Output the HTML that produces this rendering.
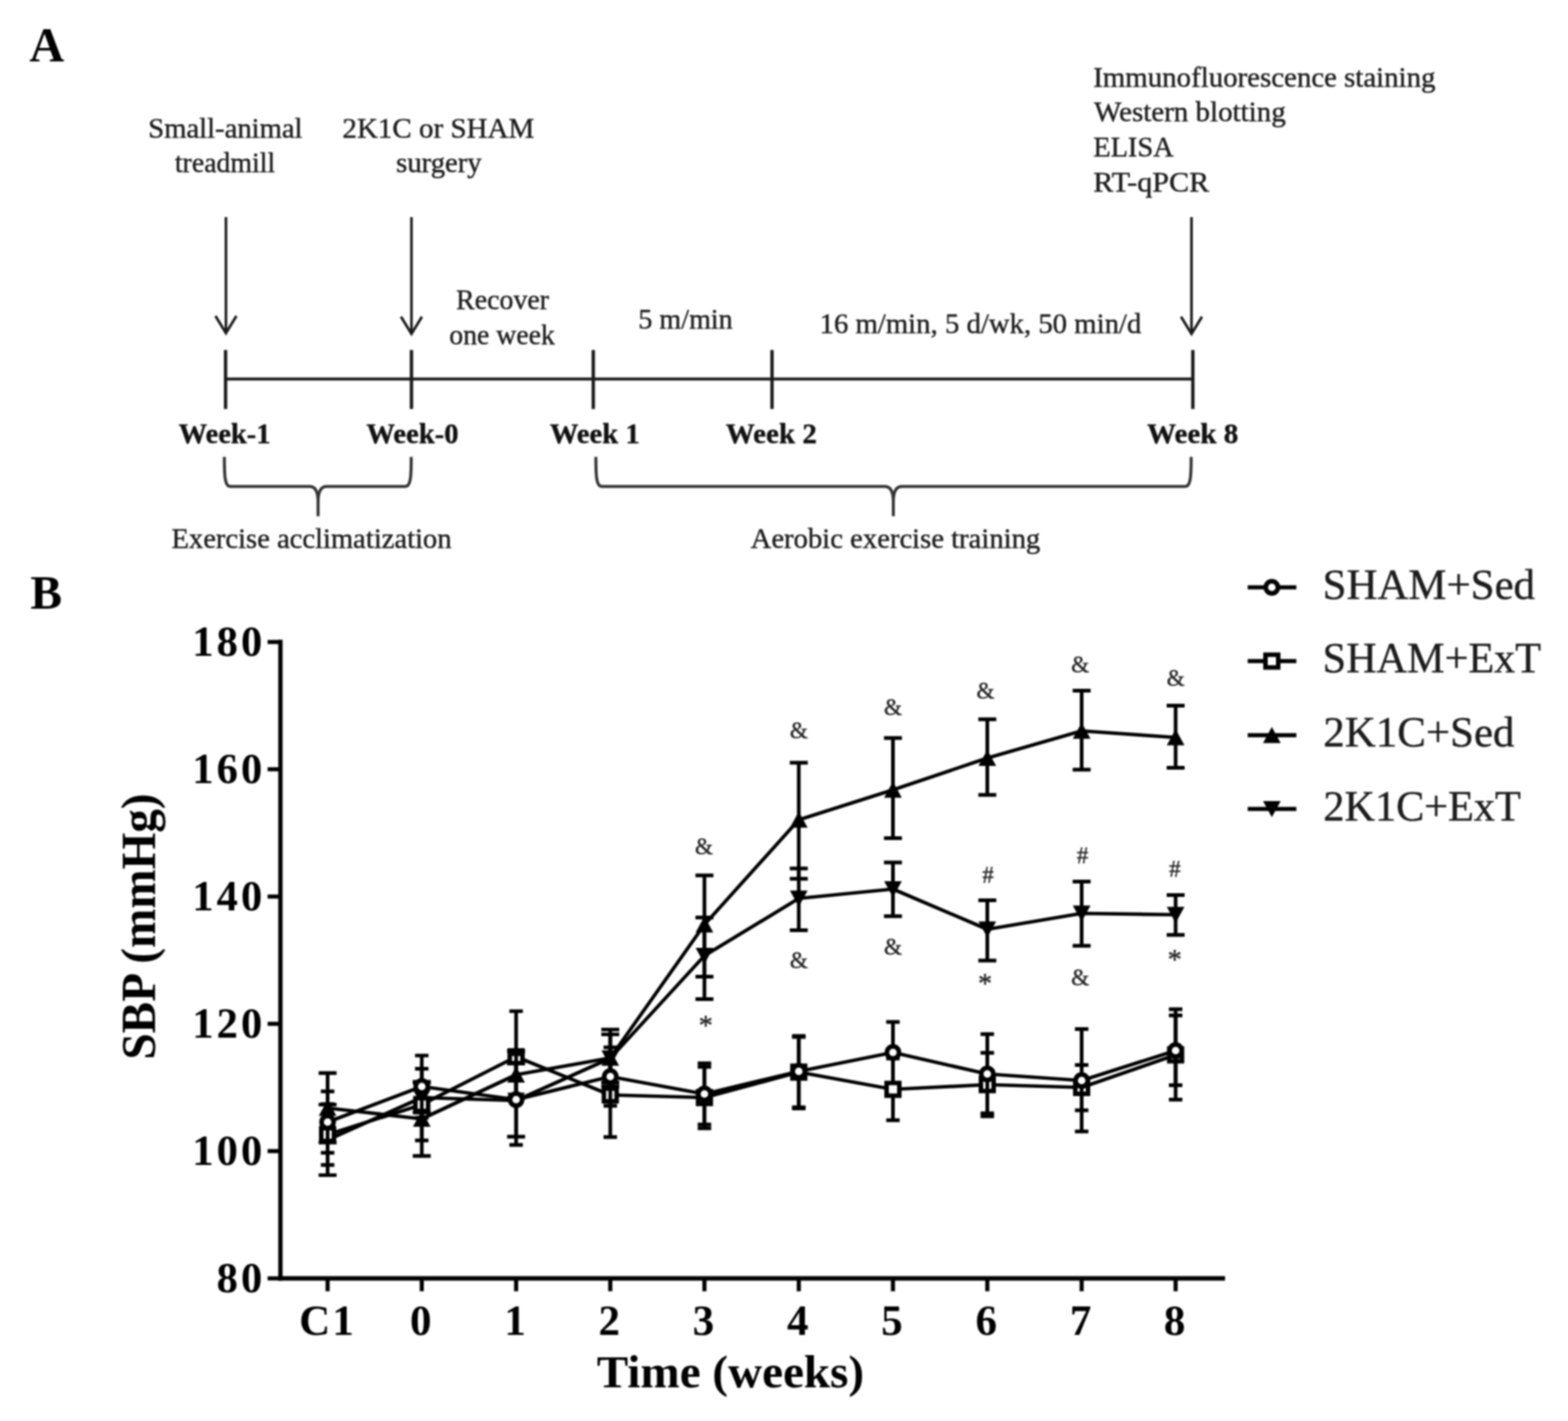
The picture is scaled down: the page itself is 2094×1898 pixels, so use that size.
<!DOCTYPE html>
<html lang="en">
<head>
<meta charset="utf-8">
<title>Figure: experimental timeline and SBP time course</title>
<style>
html, body { margin: 0; padding: 0; background: #fff; }
body { width: 2094px; height: 1898px; overflow: hidden; }
svg { display: block; font-family: "Liberation Serif", "DejaVu Serif", serif; }
text { white-space: pre; }
/* the reference is a soft, upscaled raster: mimic its edge softness */
.soft { filter: blur(0.85px); }
</style>
</head>
<body>
<svg width="2094" height="1898" viewBox="0 0 2094 1898" role="img" aria-label="Experimental timeline (A) and systolic blood pressure time course (B)">
<rect width="2094" height="1898" fill="#fff"/>
<g class="soft">
<g id="panelA">
<text x="39.3" y="82.2" font-size="64.5" font-weight="bold">A</text>
<g fill="#1c1c1c" stroke="#1c1c1c" stroke-width="0.55" stroke-linejoin="round">
<text x="198.0" y="184" font-size="38.5" textLength="206.0" lengthAdjust="spacingAndGlyphs">Small-animal</text>
<text x="233.5" y="229.5" font-size="38.5" textLength="134.0" lengthAdjust="spacingAndGlyphs">treadmill</text>
<text x="457.25" y="184" font-size="38.5" textLength="256.3" lengthAdjust="spacingAndGlyphs">2K1C or SHAM</text>
<text x="529.0" y="230" font-size="38.5" textLength="114.3" lengthAdjust="spacingAndGlyphs">surgery</text>
<text x="609.0" y="412.5" font-size="38.5" textLength="124.3" lengthAdjust="spacingAndGlyphs">Recover</text>
<text x="600.0" y="460" font-size="38.5" textLength="141.0" lengthAdjust="spacingAndGlyphs">one week</text>
<text x="852.5" y="438.75" font-size="38.5" textLength="126.0" lengthAdjust="spacingAndGlyphs">5 m/min</text>
<text x="1094.5" y="444.5" font-size="38.5" textLength="429.7" lengthAdjust="spacingAndGlyphs">16 m/min, 5 d/wk, 50 min/d</text>
<text x="1460.0" y="115.5" font-size="38.5" textLength="457.1" lengthAdjust="spacingAndGlyphs">Immunofluorescence staining</text>
<text x="1461.0" y="162.2" font-size="38.5" textLength="256.1" lengthAdjust="spacingAndGlyphs">Western blotting</text>
<text x="1460.0" y="208.9" font-size="38.5" textLength="107.5" lengthAdjust="spacingAndGlyphs">ELISA</text>
<text x="1460.0" y="256.1" font-size="38.5" textLength="154.9" lengthAdjust="spacingAndGlyphs">RT-qPCR</text>
<text x="229.0" y="732" font-size="38.5" textLength="374.0" lengthAdjust="spacingAndGlyphs">Exercise acclimatization</text>
<text x="1002.5" y="732" font-size="38.5" textLength="386.7" lengthAdjust="spacingAndGlyphs">Aerobic exercise training</text>
</g>
<g fill="#111" stroke="#111" stroke-width="0.5" stroke-linejoin="round">
<text x="238.45" y="592" font-size="38.5" font-weight="bold" textLength="122.9" lengthAdjust="spacingAndGlyphs">Week-1</text>
<text x="489.2" y="592" font-size="38.5" font-weight="bold" textLength="123.3" lengthAdjust="spacingAndGlyphs">Week-0</text>
<text x="734.2" y="592" font-size="38.5" font-weight="bold" textLength="120.1" lengthAdjust="spacingAndGlyphs">Week 1</text>
<text x="969.2" y="592" font-size="38.5" font-weight="bold" textLength="121.6" lengthAdjust="spacingAndGlyphs">Week 2</text>
<text x="1531.7" y="592" font-size="38.5" font-weight="bold" textLength="122.1" lengthAdjust="spacingAndGlyphs">Week 8</text>
</g>
<g fill="none" stroke="#1a1a1a" stroke-width="3.5">
<path d="M301.75,290 V444"/>
<path d="M287.75,422 L301.75,445 L315.75,422" stroke-linejoin="miter"/>
<path d="M549.5,290 V445"/>
<path d="M535.5,423 L549.5,446 L563.5,423" stroke-linejoin="miter"/>
<path d="M1591.2,290 V445"/>
<path d="M1577.2,423 L1591.2,446 L1605.2,423" stroke-linejoin="miter"/>
</g>
<g fill="none" stroke="#1a1a1a" stroke-width="4.5">
<path d="M301,506.3 H1593" stroke-width="4"/>
<path d="M301.25,467.5 V546.3"/>
<path d="M549.5,467.5 V546.3"/>
<path d="M792.3,467.5 V546.3"/>
<path d="M1031,467.5 V546.3"/>
<path d="M1593,467.5 V546.3"/>
</g>
<g fill="none" stroke="#333" stroke-width="4" stroke-linecap="butt">
<path d="M299.6,610.2 C299.6,635.8 300.1,649.8 307.6,649.8 L414.3,649.8 C420.8,650.3 424.5,656.8 424.8,668.8 L424.8,689.5 M549.2,610.2 C549.2,635.8 548.7,649.8 541.2,649.8 L435.3,649.8 C428.8,650.3 425.1,656.8 424.8,668.8"/>
<path d="M795.75,610.2 C795.75,635.8 796.25,649.8 803.75,649.8 L1182.5,649.8 C1189,650.3 1192.7,656.8 1193,668.8 L1193,689.5 M1590.75,610.2 C1590.75,635.8 1590.25,649.8 1582.75,649.8 L1203.5,649.8 C1197,650.3 1193.3,656.8 1193,668.8"/>
</g>
</g>
<g id="panelB">
<text x="40.6" y="813.2" font-size="63.5" font-weight="bold">B</text>
<g fill="none" stroke="#000" stroke-width="5.8">
<path d="M374.5,854.5 V1710.4"/>
<path d="M371.5,1707.5 H1636"/>
<path d="M357.4,857.5 H374.5" stroke-width="5.5"/>
<path d="M357.4,1027.5 H374.5" stroke-width="5.5"/>
<path d="M357.4,1197.5 H374.5" stroke-width="5.5"/>
<path d="M357.4,1367.5 H374.5" stroke-width="5.5"/>
<path d="M357.4,1537.5 H374.5" stroke-width="5.5"/>
<path d="M357.4,1707.5 H374.5" stroke-width="5.5"/>
<path d="M437.5,1707.5 V1724.7" stroke-width="5.5"/>
<path d="M563.25,1707.5 V1724.7" stroke-width="5.5"/>
<path d="M689.25,1707.5 V1724.7" stroke-width="5.5"/>
<path d="M815,1707.5 V1724.7" stroke-width="5.5"/>
<path d="M940.75,1707.5 V1724.7" stroke-width="5.5"/>
<path d="M1066.75,1707.5 V1724.7" stroke-width="5.5"/>
<path d="M1192.5,1707.5 V1724.7" stroke-width="5.5"/>
<path d="M1318.5,1707.5 V1724.7" stroke-width="5.5"/>
<path d="M1444.5,1707.5 V1724.7" stroke-width="5.5"/>
<path d="M1570,1707.5 V1724.7" stroke-width="5.5"/>
</g>
<g fill="#000">
<text x="350.2" y="876.3" font-size="57" text-anchor="end" font-weight="bold" letter-spacing="4" dx="4">180</text>
<text x="350.2" y="1046.3" font-size="57" text-anchor="end" font-weight="bold" letter-spacing="4" dx="4">160</text>
<text x="350.2" y="1216.3" font-size="57" text-anchor="end" font-weight="bold" letter-spacing="4" dx="4">140</text>
<text x="350.2" y="1386.3" font-size="57" text-anchor="end" font-weight="bold" letter-spacing="4" dx="4">120</text>
<text x="350.2" y="1556.3" font-size="57" text-anchor="end" font-weight="bold" letter-spacing="4" dx="4">100</text>
<text x="350.2" y="1726.3" font-size="57" text-anchor="end" font-weight="bold" letter-spacing="4" dx="4">80</text>
<text x="436.0" y="1782.5" font-size="57.5" text-anchor="middle" font-weight="bold" letter-spacing="2.5" dx="1.25">C1</text>
<text x="561.75" y="1782.5" font-size="57.5" text-anchor="middle" font-weight="bold">0</text>
<text x="687.75" y="1782.5" font-size="57.5" text-anchor="middle" font-weight="bold">1</text>
<text x="813.5" y="1782.5" font-size="57.5" text-anchor="middle" font-weight="bold">2</text>
<text x="939.25" y="1782.5" font-size="57.5" text-anchor="middle" font-weight="bold">3</text>
<text x="1065.25" y="1782.5" font-size="57.5" text-anchor="middle" font-weight="bold">4</text>
<text x="1191.0" y="1782.5" font-size="57.5" text-anchor="middle" font-weight="bold">5</text>
<text x="1317.0" y="1782.5" font-size="57.5" text-anchor="middle" font-weight="bold">6</text>
<text x="1443.0" y="1782.5" font-size="57.5" text-anchor="middle" font-weight="bold">7</text>
<text x="1568.5" y="1782.5" font-size="57.5" text-anchor="middle" font-weight="bold">8</text>
<text x="797" y="1852.5" font-size="62" font-weight="bold" textLength="357" lengthAdjust="spacingAndGlyphs">Time (weeks)</text>
<text transform="translate(206.6,1415.2) rotate(-90)" font-size="66" font-weight="bold" textLength="355.5" lengthAdjust="spacingAndGlyphs">SBP (mmHg)</text>
</g>
<g id="data">
<g fill="none" stroke="#000" stroke-width="4.9">
<path d="M437.5,1475.4V1569.6M425.5,1475.4h24M425.5,1569.6h24M563.25,1446V1486M551.25,1446h24M551.25,1486h24M689.25,1420.5V1518.3M677.25,1420.5h24M677.25,1518.3h24M815,1381.6V1446M803.0,1381.6h24M803.0,1446h24M940.75,1225.5V1334.5M928.75,1225.5h24M928.75,1334.5h24M1066.75,1160V1242.5M1054.75,1160h24M1054.75,1242.5h24M1192.5,1152V1223.75M1180.5,1152h24M1180.5,1223.75h24M1318.5,1202.5V1283M1306.5,1202.5h24M1306.5,1283h24M1444.5,1177.5V1263.25M1432.5,1177.5h24M1432.5,1263.25h24M1570,1195.5V1248.75M1558.0,1195.5h24M1558.0,1248.75h24"/>
<polyline points="437.5,1522.5 563.25,1466 689.25,1470 815,1413.5 940.75,1276.5 1066.75,1200 1192.5,1187.5 1318.5,1241.25 1444.5,1220 1570,1221.75" stroke-width="4.7" stroke-linejoin="round"/>
</g>
<path d="M437.5,1533.5 L449.3,1512.0 L425.7,1512.0 Z" fill="#000"/>
<path d="M563.25,1477 L575.05,1455.5 L551.45,1455.5 Z" fill="#000"/>
<path d="M689.25,1481 L701.05,1459.5 L677.45,1459.5 Z" fill="#000"/>
<path d="M815,1424.5 L826.8,1403.0 L803.2,1403.0 Z" fill="#000"/>
<path d="M940.75,1287.5 L952.55,1266.0 L928.95,1266.0 Z" fill="#000"/>
<path d="M1066.75,1211 L1078.55,1189.5 L1054.95,1189.5 Z" fill="#000"/>
<path d="M1192.5,1198.5 L1204.3,1177.0 L1180.7,1177.0 Z" fill="#000"/>
<path d="M1318.5,1252.25 L1330.3,1230.75 L1306.7,1230.75 Z" fill="#000"/>
<path d="M1444.5,1231 L1456.3,1209.5 L1432.7,1209.5 Z" fill="#000"/>
<path d="M1570,1232.75 L1581.8,1211.25 L1558.2,1211.25 Z" fill="#000"/>
<g fill="none" stroke="#000" stroke-width="4.9">
<path d="M437.5,1433.2V1526M425.5,1433.2h24M425.5,1526h24M563.25,1445V1544M551.25,1445h24M551.25,1544h24M689.25,1404V1466M677.25,1404h24M677.25,1466h24M815,1375.1V1451M803.0,1375.1h24M803.0,1451h24M940.75,1169.25V1304.5M928.75,1169.25h24M928.75,1304.5h24M1066.75,1018.75V1173.75M1054.75,1018.75h24M1054.75,1173.75h24M1192.5,985.75V1119.5M1180.5,985.75h24M1180.5,1119.5h24M1318.5,960.75V1061.75M1306.5,960.75h24M1306.5,1061.75h24M1444.5,922.5V1028M1432.5,922.5h24M1432.5,1028h24M1570,942.5V1025.5M1558.0,942.5h24M1558.0,1025.5h24"/>
<polyline points="437.5,1480 563.25,1494.5 689.25,1435.5 815,1413 940.75,1235 1066.75,1095 1192.5,1055 1318.5,1012.5 1444.5,976.25 1570,985" stroke-width="4.7" stroke-linejoin="round"/>
</g>
<path d="M437.5,1469 L449.3,1490.5 L425.7,1490.5 Z" fill="#000"/>
<path d="M563.25,1483.5 L575.05,1505.0 L551.45,1505.0 Z" fill="#000"/>
<path d="M689.25,1424.5 L701.05,1446.0 L677.45,1446.0 Z" fill="#000"/>
<path d="M815,1402 L826.8,1423.5 L803.2,1423.5 Z" fill="#000"/>
<path d="M940.75,1224 L952.55,1245.5 L928.95,1245.5 Z" fill="#000"/>
<path d="M1066.75,1084 L1078.55,1105.5 L1054.95,1105.5 Z" fill="#000"/>
<path d="M1192.5,1044 L1204.3,1065.5 L1180.7,1065.5 Z" fill="#000"/>
<path d="M1318.5,1001.5 L1330.3,1023.0 L1306.7,1023.0 Z" fill="#000"/>
<path d="M1444.5,965.25 L1456.3,986.75 L1432.7,986.75 Z" fill="#000"/>
<path d="M1570,974 L1581.8,995.5 L1558.2,995.5 Z" fill="#000"/>
<g fill="none" stroke="#000" stroke-width="4.9">
<path d="M437.5,1474.8V1556M428.5,1474.8h18M428.5,1556h18M563.25,1427.5V1523.2M554.25,1427.5h18M554.25,1523.2h18M689.25,1350.6V1472M680.25,1350.6h18M680.25,1472h18M815,1406V1518.75M806.0,1406h18M806.0,1518.75h18M940.75,1425V1507M931.75,1425h18M931.75,1507h18M1066.75,1385V1480.5M1057.75,1385h18M1057.75,1480.5h18M1192.5,1413.75V1496.25M1183.5,1413.75h18M1183.5,1496.25h18M1318.5,1406.25V1491M1309.5,1406.25h18M1309.5,1491h18M1444.5,1422.5V1483M1435.5,1422.5h18M1435.5,1483h18M1570,1348V1468.75M1561.0,1348h18M1561.0,1468.75h18"/>
<polyline points="437.5,1515.4 563.25,1475.4 689.25,1411.5 815,1462.5 940.75,1466 1066.75,1432 1192.5,1455 1318.5,1448.75 1444.5,1452.5 1570,1409" stroke-width="4.7" stroke-linejoin="round"/>
</g>
<rect x="429.0" y="1506.9" width="17" height="17" fill="#fff" stroke="#000" stroke-width="6"/>
<rect x="554.75" y="1466.9" width="17" height="17" fill="#fff" stroke="#000" stroke-width="6"/>
<rect x="680.75" y="1403.0" width="17" height="17" fill="#fff" stroke="#000" stroke-width="6"/>
<rect x="806.5" y="1454.0" width="17" height="17" fill="#fff" stroke="#000" stroke-width="6"/>
<rect x="932.25" y="1457.5" width="17" height="17" fill="#fff" stroke="#000" stroke-width="6"/>
<rect x="1058.25" y="1423.5" width="17" height="17" fill="#fff" stroke="#000" stroke-width="6"/>
<rect x="1184.0" y="1446.5" width="17" height="17" fill="#fff" stroke="#000" stroke-width="6"/>
<rect x="1310.0" y="1440.25" width="17" height="17" fill="#fff" stroke="#000" stroke-width="6"/>
<rect x="1436.0" y="1444.0" width="17" height="17" fill="#fff" stroke="#000" stroke-width="6"/>
<rect x="1561.5" y="1400.5" width="17" height="17" fill="#fff" stroke="#000" stroke-width="6"/>
<g fill="none" stroke="#000" stroke-width="4.9">
<path d="M437.5,1457.8V1539.7M428.5,1457.8h18M428.5,1539.7h18M563.25,1409.9V1493M554.25,1409.9h18M554.25,1493h18M689.25,1408V1529.3M680.25,1408h18M680.25,1529.3h18M815,1399V1477M806.0,1399h18M806.0,1477h18M940.75,1420.25V1502M931.75,1420.25h18M931.75,1502h18M1066.75,1383.75V1479M1057.75,1383.75h18M1057.75,1479h18M1192.5,1365V1446.5M1183.5,1365h18M1183.5,1446.5h18M1318.5,1381.25V1487M1309.5,1381.25h18M1309.5,1487h18M1444.5,1374.5V1511.25M1435.5,1374.5h18M1435.5,1511.25h18M1570,1356.25V1449.5M1561.0,1356.25h18M1561.0,1449.5h18"/>
<polyline points="437.5,1498.75 563.25,1451.25 689.25,1468.75 815,1438 940.75,1461.25 1066.75,1431 1192.5,1405.75 1318.5,1434.5 1444.5,1443.25 1570,1403.25" stroke-width="4.7" stroke-linejoin="round"/>
</g>
<circle cx="437.5" cy="1498.75" r="8.1" fill="#fff" stroke="#000" stroke-width="6.1"/>
<circle cx="563.25" cy="1451.25" r="8.1" fill="#fff" stroke="#000" stroke-width="6.1"/>
<circle cx="689.25" cy="1468.75" r="8.1" fill="#fff" stroke="#000" stroke-width="6.1"/>
<circle cx="815" cy="1438" r="8.1" fill="#fff" stroke="#000" stroke-width="6.1"/>
<circle cx="940.75" cy="1461.25" r="8.1" fill="#fff" stroke="#000" stroke-width="6.1"/>
<circle cx="1066.75" cy="1431" r="8.1" fill="#fff" stroke="#000" stroke-width="6.1"/>
<circle cx="1192.5" cy="1405.75" r="8.1" fill="#fff" stroke="#000" stroke-width="6.1"/>
<circle cx="1318.5" cy="1434.5" r="8.1" fill="#fff" stroke="#000" stroke-width="6.1"/>
<circle cx="1444.5" cy="1443.25" r="8.1" fill="#fff" stroke="#000" stroke-width="6.1"/>
<circle cx="1570" cy="1403.25" r="8.1" fill="#fff" stroke="#000" stroke-width="6.1"/>
</g>
<g fill="#222" stroke="#222" stroke-width="0.45" text-anchor="middle" font-size="31">
<text x="940" y="1141.25">&amp;</text>
<text x="1066.75" y="986.25">&amp;</text>
<text x="1192.5" y="955">&amp;</text>
<text x="1316" y="932.5">&amp;</text>
<text x="1442.5" y="897.5">&amp;</text>
<text x="1570" y="916">&amp;</text>
<text x="1066.75" y="1293">&amp;</text>
<text x="1192.5" y="1275">&amp;</text>
<text x="1442.5" y="1316.25">&amp;</text>
<text x="1319.5" y="1178.75">#</text>
<text x="1445.75" y="1152.5">#</text>
<text x="1569" y="1171">#</text>
<text x="942.5" y="1381.75" font-size="38">*</text>
<text x="1315.5" y="1325.5" font-size="38">*</text>
<text x="1568.75" y="1294" font-size="38">*</text>
</g>
<g id="legend">
<path d="M1666.25,784.5 H1731.25" stroke="#000" stroke-width="5.6" fill="none"/>
<circle cx="1698.5" cy="784.5" r="8.1" fill="#fff" stroke="#000" stroke-width="6.1"/>
<text x="1766.3" y="799.5" font-size="57.5" textLength="283.7" lengthAdjust="spacingAndGlyphs" fill="#1c1c1c" stroke="#1c1c1c" stroke-width="0.5">SHAM+Sed</text>
<path d="M1666.25,883 H1731.25" stroke="#000" stroke-width="5.6" fill="none"/>
<rect x="1690.0" y="874.5" width="17" height="17" fill="#fff" stroke="#000" stroke-width="6"/>
<text x="1766.3" y="898.25" font-size="57.5" textLength="291.7" lengthAdjust="spacingAndGlyphs" fill="#1c1c1c" stroke="#1c1c1c" stroke-width="0.5">SHAM+ExT</text>
<path d="M1666.25,982 H1731.25" stroke="#000" stroke-width="5.6" fill="none"/>
<path d="M1698.5,971 L1710.3,992.5 L1686.7,992.5 Z" fill="#000"/>
<text x="1767.3" y="997.0" font-size="57.5" textLength="255.2" lengthAdjust="spacingAndGlyphs" fill="#1c1c1c" stroke="#1c1c1c" stroke-width="0.5">2K1C+Sed</text>
<path d="M1666.25,1080.5 H1731.25" stroke="#000" stroke-width="5.6" fill="none"/>
<path d="M1698.5,1091.5 L1710.3,1070.0 L1686.7,1070.0 Z" fill="#000"/>
<text x="1767.3" y="1095.5" font-size="57.5" textLength="263.7" lengthAdjust="spacingAndGlyphs" fill="#1c1c1c" stroke="#1c1c1c" stroke-width="0.5">2K1C+ExT</text>
</g>
</g>
</g>
</svg>
</body>
</html>
